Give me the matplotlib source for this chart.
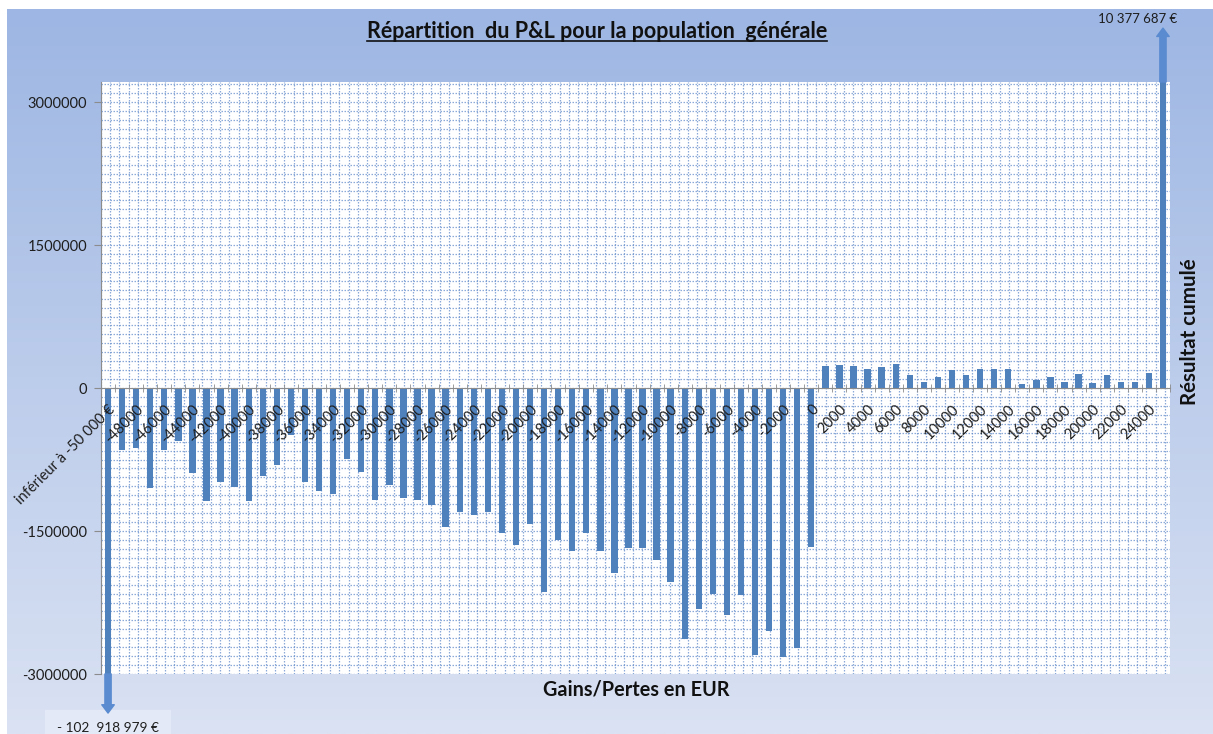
import numpy as np
import matplotlib
matplotlib.use("Agg")
import matplotlib.pyplot as plt
from matplotlib.ticker import FixedLocator, MultipleLocator
from matplotlib.lines import Line2D

# ---------------- data ----------------
categories = ["inférieur à -50 000 €"] + [str(v) for v in range(-49000, 25001, 1000)]
values = [
    -102918979,
    -647000, -633000, -1048000, -647000, -553000, -892000, -1182000, -990000,
    -1035000, -1182000, -920000, -808000, -493000, -990000, -1077000, -1112000,
    -745000, -878000, -1172000, -1014000, -1158000, -1172000, -1224000, -1462000,
    -1305000, -1329000, -1305000, -1521000, -1644000, -1427000, -2137000, -1595000,
    -1714000, -1521000, -1714000, -1945000, -1679000, -1679000, -1805000, -2039000,
    -2633000, -2318000, -2161000, -2381000, -2171000, -2801000, -2546000, -2819000,
    -2731000, -1672000,
    231000, 245000, 231000, 196000, 224000, 256000, 136000, 63000,
    112000, 186000, 136000, 196000, 196000, 196000, 38000, 88000,
    112000, 63000, 147000, 52000, 136000, 63000, 63000, 161000,
    10377687,
]
y_ticks = [-3000000, -1500000, 0, 1500000, 3000000]
y_min, y_max = -3000000, 3210000
title = "Répartition  du P&L pour la population  générale"
xlabel = "Gains/Pertes en EUR"
ylabel_right = "Résultat cumulé"
low_label = "- 102  918 979 €"
high_label = "10 377 687 €"

plt.rcParams["font.family"] = ["Lato", "DejaVu Sans"]

W, H = 1213, 734
fig = plt.figure(figsize=(W / 100, H / 100), dpi=100)
fig.patch.set_facecolor("white")

# background gradient
bg = fig.add_axes([7 / W, 0, 1 - 7 / W, 1 - 9 / H], zorder=-10)
g = np.linspace(0, 1, 256)[:, None, None]
top = np.array([157, 182, 227]) / 255
bot = np.array([218, 226, 243]) / 255
img = top[None, None, :] * (1 - g) + bot[None, None, :] * g
bg.imshow(img, aspect="auto", extent=[0, 1, 0, 1])
bg.axis("off")

# main axes
ax = fig.add_axes([101 / W, 1 - 674 / H, (1170 - 101) / W, (674 - 82) / H])
ax.set_facecolor("white")
ax.set_axisbelow(True)
x = np.arange(len(categories))
bar_color = "#4F81BD"
ax.bar(x, values, width=0.45, color=bar_color, zorder=3)
ax.set_xlim(-0.5, len(categories) - 0.5)
ax.set_ylim(y_min, y_max)

# grid
grid_kw = dict(color="#5B86C8", linewidth=0.9, linestyle=(0, (1.2, 1.2)), alpha=0.7)
ax.yaxis.set_minor_locator(MultipleLocator(93750))
ax.grid(axis="y", which="both", **grid_kw)
ax.vlines(np.arange(-0.5, len(categories) - 0.5, 0.652), 0, 1,
          transform=ax.get_xaxis_transform(), zorder=1, **grid_kw)

# spines
for s in ["top", "right"]:
    ax.spines[s].set_visible(False)
ax.spines["left"].set_color("#8C8C8C")
ax.spines["bottom"].set_color("#8C8C8C")
ax.spines["bottom"].set_position(("data", 0))
ax.spines["bottom"].set_zorder(4)

# x ticks (drawn above the bars)
ax.set_xticks(x[::2])
ax.set_xticklabels(categories[::2], rotation=45, ha="right", va="top",
                   rotation_mode="anchor", fontsize=10.5, color="#1E1E1E")
ax.xaxis.set_minor_locator(FixedLocator(np.arange(-0.5, len(categories), 1.0)))
ax.tick_params(axis="x", which="major", length=0, pad=10.5)
ax.tick_params(axis="x", which="minor", length=6, direction="inout", color="#8C8C8C")
ax.xaxis.set_zorder(5)

# y ticks
ax.set_yticks(y_ticks)
ax.set_yticklabels([str(v) for v in y_ticks], fontsize=10.5, color="#1E1E1E")
ax.tick_params(axis="y", which="major", length=5, color="#8C8C8C", pad=5)
ax.tick_params(axis="y", which="minor", length=0)

# overflow arrows
arrow_kw = dict(arrowstyle="simple,head_length=0.6,head_width=0.9,tail_width=0.45",
                mutation_scale=10, color="#5A8BD0", shrinkA=0, shrinkB=0)
for i, v in enumerate(values):
    if v < y_min:
        ax.annotate("", xy=(x[i], -0.066), xycoords=("data", "axes fraction"),
                    xytext=(x[i], 0.0), textcoords=("data", "axes fraction"),
                    arrowprops=arrow_kw, annotation_clip=False, zorder=5)
        ax.annotate(low_label, xy=(x[i], -0.066), xycoords=("data", "axes fraction"),
                    xytext=(0, -15), textcoords="offset pixels", ha="center", va="center",
                    fontsize=9.8, color="#1E1E1E", annotation_clip=False,
                    bbox=dict(boxstyle="square,pad=0.9", fc="#E3E9F6", ec="none"))
    elif v > y_max:
        ax.annotate("", xy=(x[i], 1.091), xycoords=("data", "axes fraction"),
                    xytext=(x[i], 1.0), textcoords=("data", "axes fraction"),
                    arrowprops=arrow_kw, annotation_clip=False, zorder=5)
        ax.annotate(high_label, xy=(x[i], 1.091), xycoords=("data", "axes fraction"),
                    xytext=(14, 9), textcoords="offset pixels", ha="right", va="center",
                    fontsize=9.5, color="#1E1E1E", annotation_clip=False)

# titles
t = fig.text(597 / W, 1 - 38 / H, title, ha="center", va="baseline",
             fontsize=15.5, fontweight="bold", color="#111111")
fig.text(636 / W, 1 - 690 / H, xlabel, ha="center", va="center",
         fontsize=14.3, fontweight="bold", color="#111111")
fig.text(1190 / W, 1 - 332 / H, ylabel_right, ha="center", va="center", rotation=90,
         fontsize=14.8, fontweight="bold", color="#111111")

fig.canvas.draw()
bb = t.get_window_extent()
uy = H - 41
fig.add_artist(Line2D([bb.x0 / W, bb.x1 / W], [uy / H, uy / H],
                      transform=fig.transFigure, color="#111111", linewidth=1.2))

fig.savefig("out.png", dpi=100)
